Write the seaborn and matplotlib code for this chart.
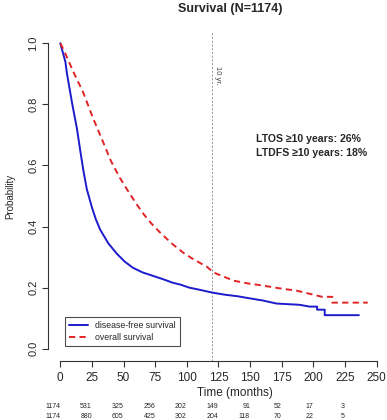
import numpy as np
import pandas as pd
import matplotlib
matplotlib.use("Agg")
import matplotlib.pyplot as plt
import matplotlib.transforms as mtransforms
import seaborn as sns

# disease-free survival
dfs_time = [0, 1, 4, 5.3, 9.2, 13.2, 15.8, 18.4, 21, 25, 28, 31.5, 38, 44.7, 51, 57.5, 65,
            73, 81, 89, 95, 102, 108, 120, 130, 140, 147, 160, 171, 180, 189, 197, 203,
            203, 209, 209, 236]
dfs_prob = [1.0, 0.985, 0.94, 0.9, 0.807, 0.72, 0.648, 0.58, 0.522, 0.463, 0.425, 0.39,
            0.345, 0.311, 0.285, 0.265, 0.25, 0.239, 0.228, 0.216, 0.21, 0.20, 0.195,
            0.184, 0.177, 0.172, 0.167, 0.158, 0.148, 0.146, 0.144, 0.138, 0.138, 0.128,
            0.128, 0.11, 0.11]

# overall survival
os_time = [0, 2.5, 10.5, 18, 26, 34, 40, 47, 53, 60, 66, 72, 79, 88, 97, 104, 110,
           116, 121, 128, 137, 148, 160, 173, 187, 197, 207, 215, 215, 243]
os_prob = [1.0, 0.98, 0.905, 0.84, 0.754, 0.675, 0.615, 0.56, 0.52, 0.475, 0.44, 0.41,
           0.38, 0.345, 0.315, 0.296, 0.282, 0.268, 0.25, 0.238, 0.223, 0.214, 0.207,
           0.198, 0.19, 0.18, 0.17, 0.17, 0.151, 0.151]

risk_times = [0, 25, 50, 75, 100, 125, 150, 175, 200, 225]
risk_dfs = [1174, 531, 325, 256, 202, 149, 91, 52, 17, 3]
risk_os = [1174, 880, 605, 425, 302, 204, 118, 70, 22, 5]

df = pd.concat([
    pd.DataFrame({"time": dfs_time, "prob": dfs_prob, "curve": "disease-free survival"}),
    pd.DataFrame({"time": os_time, "prob": os_prob, "curve": "overall survival"}),
])

sns.set_style("ticks")
plt.rcParams["font.family"] = ["Liberation Sans", "DejaVu Sans"]

fig = plt.figure(figsize=(3.87, 4.2), dpi=100)
ax = fig.add_axes([48 / 387, 1 - 361 / 420, (380 - 48) / 387, (361 - 31) / 420])

palette = {"disease-free survival": "#1c1ccc", "overall survival": "#e02424"}
sns.lineplot(data=df, x="time", y="prob", hue="curve", style="curve",
             palette=palette, dashes={"disease-free survival": "", "overall survival": (3.2, 2.2)},
             estimator=None, linewidth=1.4, ax=ax, sort=False)

ax.axvline(120, color="#888888", linestyle=(0, (2.5, 2)), linewidth=0.6, zorder=0)
ax.text(121.5, 0.895, "10 yr.", rotation=270, fontsize=5.5, color="#444444",
        ha="left", va="center")

ax.text(155, 0.685, "LTOS \u226510 years: 26%", fontsize=7.6, fontweight="bold", ha="left", va="center")
ax.text(155, 0.64, "LTDFS \u226510 years: 18%", fontsize=7.6, fontweight="bold", ha="left", va="center")

ax.set_xlim(-9.7, 252.7)
ax.set_ylim(-0.04, 1.04)
ax.set_xticks(np.arange(0, 251, 25))
ax.set_yticks([0.0, 0.2, 0.4, 0.6, 0.8, 1.0])
ax.set_yticklabels(["0.0", "0.2", "0.4", "0.6", "0.8", "1.0"], rotation=90, va="center")
ax.tick_params(axis="both", labelsize=8, length=4, width=0.8, color="#333333", pad=3)
ax.tick_params(axis="x", labelsize=8.5, pad=4)
for s in ["top", "right"]:
    ax.spines[s].set_visible(False)
ax.spines["left"].set_bounds(0, 1)
ax.spines["bottom"].set_bounds(0, 250)
for s in ["left", "bottom"]:
    ax.spines[s].set_color("#333333")
    ax.spines[s].set_linewidth(0.8)

ax.set_xlabel("Time (months)", fontsize=8.5)
ax.xaxis.set_label_coords(0.563, -0.08)
ax.set_ylabel("Probability", fontsize=7)
ax.yaxis.set_label_coords(-0.1, 0.5)

leg = ax.legend(loc="lower left", bbox_to_anchor=(0.05, 0.045), fontsize=6.3,
                frameon=True, fancybox=False, handlelength=2.2, borderpad=0.5,
                labelspacing=0.3, handletextpad=0.8, borderaxespad=0)
leg.get_frame().set_edgecolor("#222222")
leg.get_frame().set_linewidth(0.8)

trans = mtransforms.blended_transform_factory(ax.transData, fig.transFigure)
for t, a, b in zip(risk_times, risk_dfs, risk_os):
    ax.text(t, 1 - 407 / 420, str(a), transform=trans, ha="right", va="center", fontsize=5, clip_on=False)
    ax.text(t, 1 - 416.5 / 420, str(b), transform=trans, ha="right", va="center", fontsize=5, clip_on=False)

fig.text(230 / 387, 1 - 9 / 420, "Survival (N=1174)", ha="center", va="center",
         fontsize=9, fontweight="bold")

fig.savefig("out.png", dpi=100, facecolor="white")
